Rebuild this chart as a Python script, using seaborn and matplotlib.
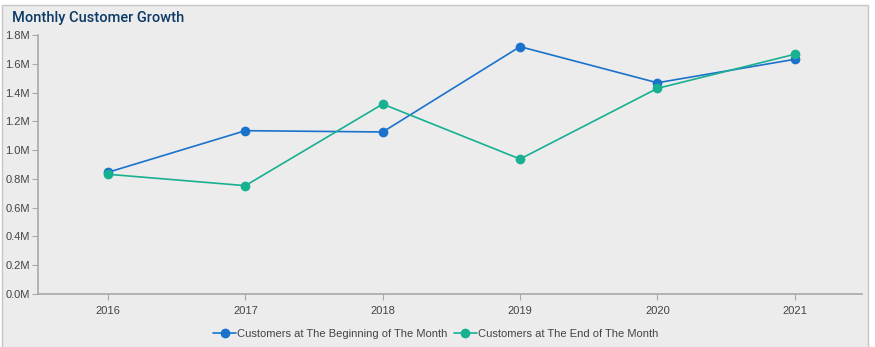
import matplotlib
matplotlib.use("Agg")
import matplotlib.pyplot as plt
import matplotlib.patches as mpatches
from matplotlib.ticker import FuncFormatter
import seaborn as sns
import pandas as pd

years = [2016, 2017, 2018, 2019, 2020, 2021]
begin_customers = [846000, 1135000, 1126000, 1719000, 1468000, 1631000]
end_customers = [832000, 753000, 1320000, 938000, 1429000, 1666000]
series_names = ["Customers at The Beginning of The Month", "Customers at The End of The Month"]
colors = ["#1a72cc", "#17b090"]

df = pd.DataFrame({
    "year": years * 2,
    "value": begin_customers + end_customers,
    "series": [series_names[0]] * len(years) + [series_names[1]] * len(years),
})

sns.set_theme(style="white")
plt.rcParams["font.family"] = ["Liberation Sans", "DejaVu Sans"]

W, H = 875, 347
fig = plt.figure(figsize=(W / 100, H / 100), dpi=100, facecolor="white")
bg = "#ececec"
fig.patches.append(mpatches.Rectangle((2 / W, -0.02), 866 / W, (H - 5) / H + 0.02,
                                      transform=fig.transFigure, facecolor=bg,
                                      edgecolor="#c6c6c6", linewidth=1.0, zorder=-10))

ax = fig.add_axes([38 / W, 1 - 294 / H, (862 - 38) / W, (294 - 35) / H])
ax.set_facecolor(bg)

sns.lineplot(data=df, x="year", y="value", hue="series", palette=colors,
             marker="o", markersize=7, markeredgewidth=0, linewidth=1.2,
             ax=ax, legend=False)

ax.set_xlim(2015.49, 2021.49)
ax.set_ylim(0, 1800000)
ax.set_xticks(years)
ax.set_xticklabels([str(y) for y in years])
ax.set_yticks([i * 200000 for i in range(10)])
ax.yaxis.set_major_formatter(FuncFormatter(lambda v, p: f"{v/1e6:.1f}M"))
ax.set_xlabel("")
ax.set_ylabel("")

for s in ["top", "right"]:
    ax.spines[s].set_visible(False)
for s in ["left", "bottom"]:
    ax.spines[s].set_color("#a8a8a8")
    ax.spines[s].set_linewidth(1.2)
ax.tick_params(axis="both", which="both", length=4, width=0.8, color="#a8a8a8",
               labelsize=8, labelcolor="#444444", pad=2, direction="out",
               left=True, bottom=True)
ax.tick_params(axis="x", pad=5)

fig.text(12 / W, 1 - 18 / H, "Monthly Customer Growth", fontsize=10.5,
         color="#0e3a66", va="center", ha="left", fontweight="medium",
         family=["Roboto", "DejaVu Sans"])

handles = [plt.Line2D([0], [0], color=c, marker="o", markersize=7, markeredgewidth=0,
                      linewidth=1.2) for c in colors]
fig.legend(handles, series_names, loc="center", bbox_to_anchor=(436 / W, 1 - 334 / H),
           ncol=2, frameon=False, fontsize=8, labelcolor="#444444",
           handlelength=2.0, handletextpad=0.15, columnspacing=0.6)

fig.savefig("out.png", dpi=100, facecolor="white")
